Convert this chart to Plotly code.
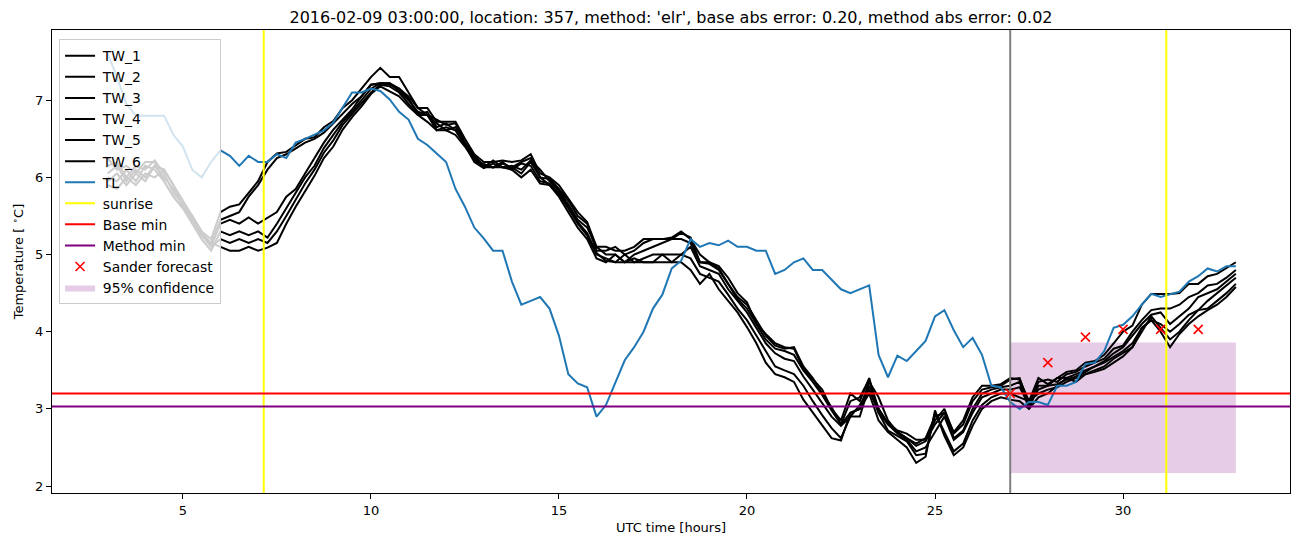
import plotly.graph_objects as go

# ---------------- data ----------------
hours = [3.0 + 0.25 * i for i in range(121)]

TW_1 = [6.25, 6.10, 6.15, 6.05, 6.20, 6.20, 5.95, 5.75, 5.60, 5.50, 5.30, 5.20,
        5.55, 5.62, 5.65, 5.80, 5.95, 6.20, 6.31, 6.33, 6.42, 6.50, 6.52, 6.65,
        6.73, 6.90, 7.00, 7.15, 7.30, 7.42, 7.30, 7.30, 7.10, 6.90, 6.90, 6.72,
        6.72, 6.72, 6.50, 6.30, 6.20, 6.20, 6.22, 6.20, 6.22, 6.30, 6.05, 6.00,
        5.90, 5.72, 5.55, 5.42, 5.10, 5.10, 5.05, 5.05, 5.10, 5.20, 5.20, 5.20,
        5.22, 5.30, 5.20, 5.00, 4.90, 4.85, 4.70, 4.50, 4.38, 4.10, 3.97, 3.85,
        3.80, 3.78, 3.52, 3.38, 3.25, 3.00, 2.85, 3.20, 3.10, 3.40, 2.95, 2.80,
        2.70, 2.62, 2.55, 2.62, 2.90, 2.95, 2.70, 2.85, 3.15, 3.30, 3.30, 3.32,
        3.40, 3.38, 3.10, 3.40, 3.32, 3.40, 3.48, 3.50, 3.60, 3.62, 3.70, 3.85,
        4.00, 4.08, 4.35, 4.49, 4.49, 4.49, 4.50, 4.62, 4.62, 4.72, 4.75, 4.82,
        4.90]
TW_2 = [6.15, 6.20, 6.00, 6.15, 6.10, 6.22, 6.05, 5.80, 5.65, 5.45, 5.25, 5.15,
        5.45, 5.50, 5.55, 5.75, 5.90, 6.10, 6.25, 6.30, 6.38, 6.45, 6.50, 6.58,
        6.70, 6.82, 6.95, 7.05, 7.20, 7.22, 7.22, 7.15, 7.05, 6.90, 6.81, 6.75,
        6.68, 6.70, 6.45, 6.28, 6.15, 6.13, 6.18, 6.13, 6.20, 6.25, 6.00, 5.98,
        5.85, 5.70, 5.50, 5.40, 5.05, 5.05, 5.10, 5.00, 5.05, 5.15, 5.20, 5.20,
        5.20, 5.28, 5.22, 4.90, 4.90, 4.82, 4.62, 4.45, 4.35, 4.15, 3.95, 3.82,
        3.78, 3.80, 3.55, 3.40, 3.20, 3.02, 2.80, 3.10, 3.15, 3.38, 3.00, 2.82,
        2.72, 2.68, 2.60, 2.60, 2.85, 3.00, 2.68, 2.80, 3.10, 3.25, 3.28, 3.30,
        3.38, 3.40, 3.05, 3.35, 3.38, 3.35, 3.45, 3.48, 3.55, 3.60, 3.65, 3.78,
        3.82, 4.00, 4.15, 4.28, 4.30, 4.30, 4.35, 4.45, 4.50, 4.60, 4.62, 4.70,
        4.80]
TW_3 = [6.05, 6.15, 5.95, 6.10, 6.00, 6.15, 6.10, 5.90, 5.62, 5.50, 5.30, 5.10,
        5.40, 5.45, 5.40, 5.48, 5.40, 5.48, 5.55, 5.75, 5.85, 6.05, 6.25, 6.45,
        6.62, 6.75, 6.88, 7.05, 7.20, 7.22, 7.20, 7.15, 7.02, 6.82, 6.85, 6.65,
        6.70, 6.61, 6.42, 6.25, 6.13, 6.22, 6.13, 6.15, 6.10, 6.22, 6.10, 5.95,
        5.83, 5.65, 5.45, 5.35, 5.10, 5.00, 5.00, 4.90, 5.00, 5.05, 5.10, 5.15,
        5.20, 5.20, 5.15, 4.90, 4.88, 4.80, 4.62, 4.42, 4.30, 4.10, 3.90, 3.78,
        3.75, 3.70, 3.50, 3.35, 3.18, 2.98, 2.80, 2.95, 3.00, 3.35, 3.15, 2.85,
        2.70, 2.62, 2.52, 2.58, 2.80, 2.95, 2.62, 2.72, 3.00, 3.20, 3.25, 3.28,
        3.30, 3.35, 3.00, 3.30, 3.30, 3.40, 3.40, 3.45, 3.50, 3.55, 3.62, 3.72,
        3.80, 3.95, 4.10, 4.22, 4.25, 4.10, 4.20, 4.30, 4.45, 4.50, 4.55, 4.65,
        4.75]
TW_4 = [6.00, 5.95, 6.10, 5.95, 6.15, 6.10, 5.95, 5.75, 5.60, 5.40, 5.20, 5.05,
        5.30, 5.25, 5.30, 5.25, 5.30, 5.22, 5.40, 5.60, 5.80, 6.00, 6.15, 6.38,
        6.55, 6.72, 6.85, 7.00, 7.15, 7.22, 7.22, 7.12, 7.00, 6.85, 6.81, 6.70,
        6.61, 6.65, 6.45, 6.22, 6.18, 6.13, 6.20, 6.10, 6.18, 6.15, 5.95, 5.92,
        5.80, 5.62, 5.42, 5.28, 5.02, 4.92, 4.90, 5.00, 4.90, 4.95, 5.00, 5.00,
        5.00, 5.00, 5.10, 4.85, 4.80, 4.75, 4.55, 4.40, 4.25, 4.05, 3.85, 3.72,
        3.65, 3.62, 3.42, 3.25, 3.08, 2.90, 2.78, 2.90, 2.90, 3.30, 3.00, 2.80,
        2.68, 2.60, 2.45, 2.50, 2.70, 2.90, 2.60, 2.70, 2.95, 3.15, 3.20, 3.25,
        3.25, 3.28, 3.05, 3.25, 3.30, 3.32, 3.38, 3.42, 3.48, 3.55, 3.60, 3.68,
        3.75, 3.85, 4.05, 4.15, 4.10, 4.00, 4.10, 4.22, 4.28, 4.40, 4.50, 4.60,
        4.70]
TW_5 = [5.95, 6.05, 5.90, 6.05, 5.95, 6.15, 6.00, 5.85, 5.65, 5.45, 5.25, 5.10,
        5.20, 5.15, 5.20, 5.15, 5.20, 5.15, 5.30, 5.50, 5.72, 5.92, 6.10, 6.32,
        6.48, 6.68, 6.82, 6.96, 7.10, 7.20, 7.18, 7.10, 6.95, 6.81, 6.81, 6.61,
        6.65, 6.61, 6.42, 6.20, 6.12, 6.18, 6.13, 6.13, 6.05, 6.20, 6.00, 5.90,
        5.78, 5.60, 5.40, 5.25, 5.00, 4.95, 4.90, 4.90, 4.95, 4.90, 4.90, 5.00,
        4.90, 5.00, 4.95, 4.75, 4.70, 4.65, 4.48, 4.30, 4.15, 3.95, 3.75, 3.55,
        3.50, 3.45, 3.30, 3.10, 2.92, 2.75, 2.62, 2.90, 3.05, 3.25, 2.95, 2.72,
        2.65, 2.58, 2.40, 2.42, 2.95, 2.70, 2.45, 2.55, 2.85, 3.05, 3.15, 3.20,
        3.20, 3.15, 3.10, 3.20, 3.25, 3.28, 3.35, 3.40, 3.45, 3.50, 3.55, 3.65,
        3.72, 3.80, 4.00, 4.20, 4.05, 3.90, 4.00, 4.15, 4.28, 4.30, 4.40, 4.50,
        4.62]
TW_6 = [5.90, 5.85, 6.00, 5.90, 6.05, 6.00, 6.10, 5.90, 5.70, 5.50, 5.28, 5.15,
        5.10, 5.05, 5.05, 5.10, 5.05, 5.09, 5.15, 5.40, 5.62, 5.82, 6.02, 6.25,
        6.40, 6.62, 6.78, 6.92, 7.08, 7.18, 7.12, 7.05, 6.92, 6.81, 6.72, 6.61,
        6.61, 6.55, 6.40, 6.22, 6.13, 6.13, 6.13, 6.10, 6.00, 6.10, 5.92, 5.90,
        5.75, 5.55, 5.35, 5.20, 4.95, 4.90, 5.00, 4.90, 4.90, 4.90, 4.90, 4.90,
        4.90, 4.90, 4.80, 4.62, 4.75, 4.55, 4.40, 4.25, 4.06, 3.85, 3.60, 3.45,
        3.41, 3.35, 3.12, 2.95, 2.78, 2.62, 2.59, 2.95, 3.00, 3.20, 2.85, 2.70,
        2.60, 2.50, 2.30, 2.38, 2.98, 2.65, 2.40, 2.50, 2.78, 3.00, 3.10, 3.15,
        3.12, 3.10, 3.00, 3.15, 3.20, 3.30, 3.40, 3.35, 3.45, 3.48, 3.52, 3.60,
        3.68, 3.80, 4.05, 4.15, 4.00, 3.80, 3.97, 4.10, 4.20, 4.28, 4.35, 4.45,
        4.58]
TL = [7.60, 7.30, 6.95, 6.80, 6.80, 6.80, 6.80, 6.55, 6.40, 6.10, 6.00, 6.20,
      6.35, 6.28, 6.15, 6.28, 6.20, 6.20, 6.30, 6.25, 6.45, 6.50, 6.55, 6.61,
      6.71, 6.91, 7.10, 7.10, 7.15, 7.12, 7.01, 6.85, 6.75, 6.50, 6.42, 6.31,
      6.20, 5.85, 5.62, 5.35, 5.21, 5.05, 5.05, 4.65, 4.35, 4.40, 4.45, 4.30,
      3.95, 3.45, 3.33, 3.28, 2.90, 3.05, 3.33, 3.63, 3.80, 4.00, 4.30, 4.48,
      4.82, 4.92, 5.20, 5.10, 5.15, 5.12, 5.18, 5.10, 5.10, 5.05, 5.05, 4.75,
      4.80, 4.90, 4.95, 4.80, 4.80, 4.68, 4.55, 4.50, 4.55, 4.60, 3.70, 3.41,
      3.69, 3.62, 3.75, 3.88, 4.20, 4.28, 4.02, 3.80, 3.92, 3.70, 3.30, 3.28,
      3.09, 3.00, 3.09, 3.09, 3.05, 3.30, 3.30, 3.35, 3.58, 3.60, 3.75, 4.05,
      4.09, 4.20, 4.35, 4.49, 4.45, 4.49, 4.52, 4.65, 4.72, 4.82, 4.78, 4.85,
      4.85]

sunrise_hours = [7.15, 31.15]
forecast_start = 27.0
base_min = 3.20
method_min = 3.03
sander_hours = [27, 28, 29, 30, 31, 32]
sander_values = [3.20, 3.60, 3.93, 4.03, 4.03, 4.03]
conf_hours = [27, 33]
conf_low = [2.17, 2.17]
conf_high = [3.86, 3.86]

title = ("2016-02-09 03:00:00, location: 357, method: 'elr', "
         "base abs error: 0.20, method abs error: 0.02")

# ---------------- figure ----------------
FONT = "DejaVu Sans"
fig = go.Figure()

rank = 1
def grp():
    global rank
    rank += 1
    return dict(legendgroup=f"g{rank}", legendrank=rank)

PAD = "\u2009"  # small gap between legend handle and text

# confidence band (drawn first, listed last)
fig.add_trace(go.Scatter(x=conf_hours, y=conf_low, mode="lines",
                         line=dict(width=0), showlegend=False,
                         hoverinfo="skip", legendgroup="conf"))
fig.add_trace(go.Scatter(x=conf_hours, y=conf_high, mode="lines",
                         line=dict(width=0), fill="tonexty",
                         fillcolor="rgba(128,0,128,0.2)",
                         name=PAD + "95% confidence", legendgroup="conf",
                         legendrank=100))

for name, ys in [("TW_1", TW_1), ("TW_2", TW_2), ("TW_3", TW_3),
                 ("TW_4", TW_4), ("TW_5", TW_5), ("TW_6", TW_6)]:
    fig.add_trace(go.Scatter(x=hours, y=ys, mode="lines", name=PAD + name,
                             line=dict(color="black", width=2), **grp()))

fig.add_trace(go.Scatter(x=hours, y=TL, mode="lines", name=PAD + "TL",
                         line=dict(color="#1f77b4", width=2), **grp()))

# legend entries for reference lines (drawn as shapes)
for name, col in [("sunrise", "yellow"), ("Base min", "red"),
                  ("Method min", "purple")]:
    fig.add_trace(go.Scatter(x=[None], y=[None], mode="lines",
                             name=PAD + name,
                             line=dict(color=col, width=2), **grp()))

fig.add_trace(go.Scatter(x=sander_hours, y=sander_values, mode="markers",
                         name=PAD + "Sander forecast",
                         marker=dict(symbol="x-thin", size=9, color="red",
                                     line=dict(color="red", width=1.6)),
                         **grp()))

shapes = []
for s in sunrise_hours:
    shapes.append(dict(type="line", xref="x", yref="y domain", x0=s, x1=s,
                       y0=0, y1=1, line=dict(color="yellow", width=2),
                       layer="above"))
shapes.append(dict(type="line", xref="x", yref="y domain", x0=forecast_start,
                   x1=forecast_start, y0=0, y1=1,
                   line=dict(color="#808080", width=2), layer="above"))
shapes.append(dict(type="line", xref="x domain", yref="y", x0=0, x1=1,
                   y0=base_min, y1=base_min, line=dict(color="red", width=2),
                   layer="above"))
shapes.append(dict(type="line", xref="x domain", yref="y", x0=0, x1=1,
                   y0=method_min, y1=method_min,
                   line=dict(color="purple", width=2), layer="above"))

axis_common = dict(showline=True, linecolor="black", linewidth=1, mirror=True,
                   ticks="outside", ticklen=5, tickwidth=1, tickcolor="black",
                   showgrid=False, zeroline=False,
                   tickfont=dict(family=FONT, size=13, color="black"))

fig.update_layout(
    width=1302, height=547,
    margin=dict(l=52, r=12, t=30, b=54),
    paper_bgcolor="white", plot_bgcolor="white",
    font=dict(family=FONT, size=13, color="black"),
    title=dict(text=title, x=0.5, xref="paper", xanchor="center",
               y=1 - 17 / 547, yref="container", yanchor="middle",
               font=dict(family=FONT, size=16, color="black")),
    xaxis=dict(range=[1.52, 34.44], tickvals=[5, 10, 15, 20, 25, 30],
               title=dict(text="UTC time [hours]", standoff=6,
                          font=dict(family=FONT, size=13)),
               **axis_common),
    yaxis=dict(range=[1.91, 7.91], tickvals=[2, 3, 4, 5, 6, 7],
               title=dict(text="Temperature [ <sup>∘</sup>C]", standoff=8,
                          font=dict(family=FONT, size=13)),
               **axis_common),
    shapes=shapes,
    showlegend=True,
    legend=dict(x=0.0057, y=0.98, xanchor="left", yanchor="top",
                bgcolor="rgba(255,255,255,0.8)", bordercolor="#cccccc",
                borderwidth=1, traceorder="grouped", tracegroupgap=0,
                itemwidth=30, font=dict(family=FONT, size=13.9)),
)

fig.write_html("out.html")
